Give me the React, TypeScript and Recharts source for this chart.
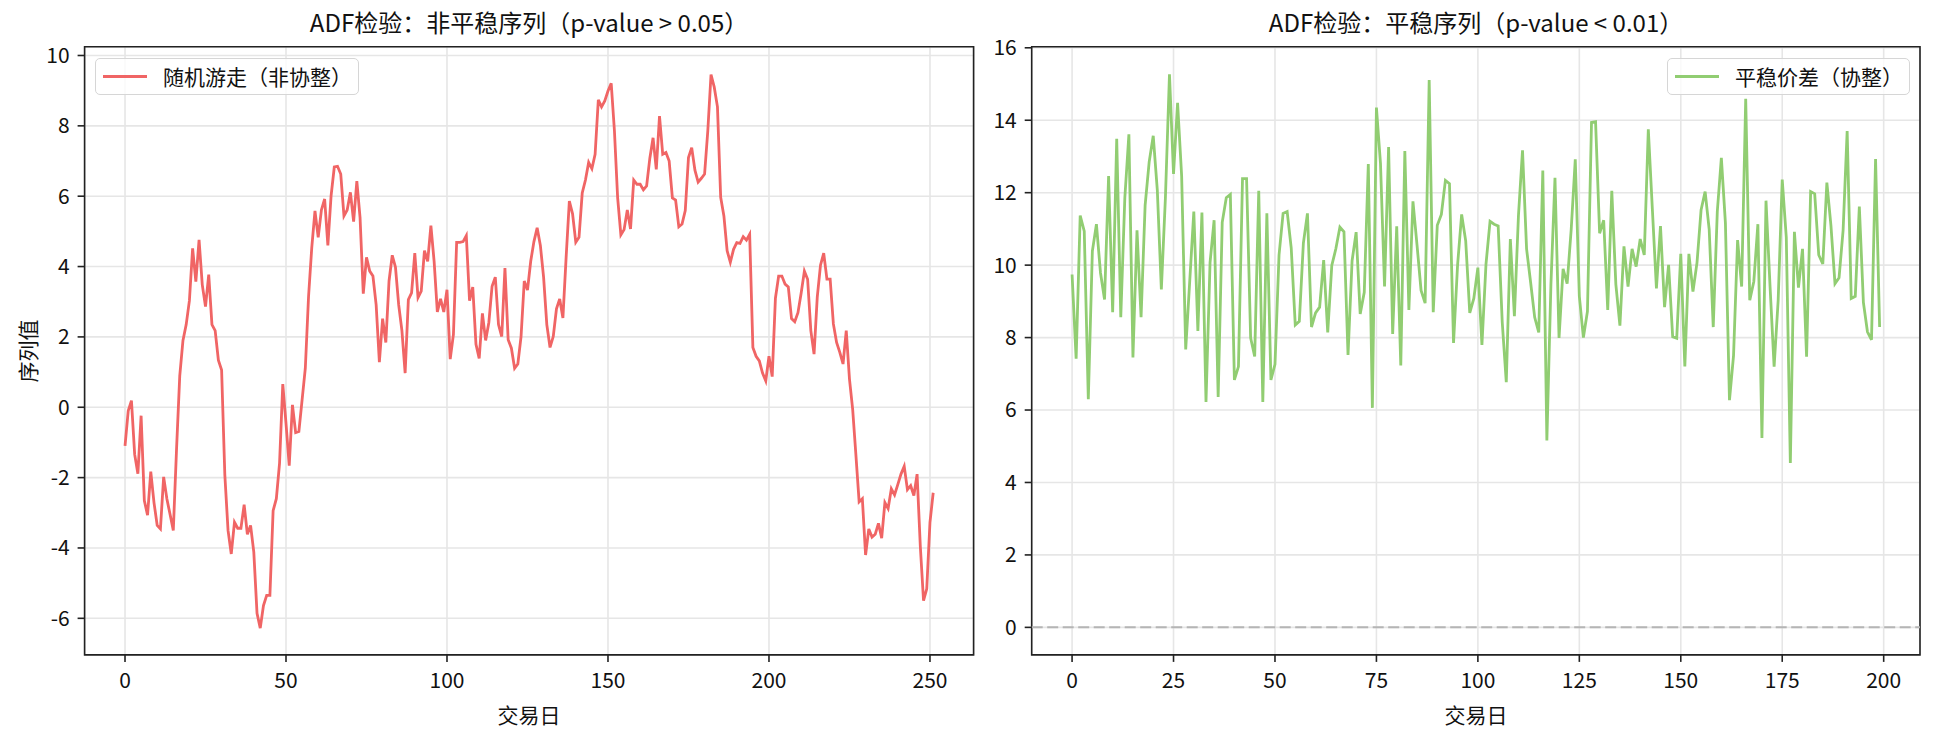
import React from 'react';
import { LineChart, Line, XAxis, YAxis, CartesianGrid, ReferenceArea, ReferenceLine } from 'recharts';

const FONT = "'Noto Sans CJK SC', 'Noto Sans', sans-serif";

// ---- Data ----
const randomWalk = [
  -1.10, -0.10, 0.19, -1.34, -1.89, -0.24, -2.65, -3.07, -1.83, -2.71,
  -3.36, -3.46, -1.98, -2.60, -3.05, -3.50, -1.20, 0.89, 1.90, 2.35,
  3.03, 4.52, 3.57, 4.76, 3.48, 2.86, 3.77, 2.35, 2.18, 1.34,
  1.06, -1.92, -3.50, -4.17, -3.27, -3.44, -3.44, -2.77, -3.61, -3.36,
  -4.12, -5.86, -6.28, -5.64, -5.35, -5.35, -2.94, -2.60, -1.59, 0.66,
  -0.46, -1.66, 0.07, -0.72, -0.69, 0.21, 1.11, 3.14, 4.54, 5.58,
  4.83, 5.61, 5.92, 4.60, 6.01, 6.83, 6.85, 6.63, 5.44, 5.61,
  6.11, 5.28, 6.43, 5.39, 3.23, 4.26, 3.87, 3.73, 2.91, 1.28,
  2.52, 1.84, 3.59, 4.32, 3.98, 2.91, 2.18, 0.97, 3.06, 3.25,
  4.38, 3.12, 3.30, 4.45, 4.15, 5.16, 4.15, 2.71, 3.08, 2.71,
  3.34, 1.37, 2.07, 4.69, 4.69, 4.71, 4.88, 3.03, 3.42, 1.79,
  1.39, 2.67, 1.90, 2.41, 3.44, 3.70, 2.35, 2.01, 3.96, 1.92,
  1.68, 1.11, 1.23, 2.01, 3.59, 3.33, 4.15, 4.71, 5.10, 4.60,
  3.70, 2.35, 1.70, 2.01, 2.80, 3.08, 2.54, 4.26, 5.86, 5.50,
  4.69, 4.83, 6.09, 6.46, 6.96, 6.78, 7.19, 8.74, 8.54, 8.71,
  8.99, 9.21, 7.86, 5.95, 4.90, 5.05, 5.61, 5.07, 6.46, 6.34,
  6.34, 6.18, 6.29, 7.08, 7.66, 6.76, 8.28, 7.19, 7.24, 7.00,
  5.95, 5.89, 5.13, 5.21, 5.59, 7.10, 7.38, 6.74, 6.40, 6.51,
  6.63, 7.86, 9.46, 9.10, 8.54, 5.97, 5.44, 4.45, 4.12, 4.49,
  4.68, 4.66, 4.85, 4.75, 4.92, 1.70, 1.45, 1.32, 0.97, 0.75,
  1.45, 0.87, 3.10, 3.73, 3.73, 3.50, 3.42, 2.52, 2.43, 2.69,
  3.25, 3.87, 3.64, 2.18, 1.51, 3.14, 4.04, 4.38, 3.64, 3.64,
  2.37, 1.84, 1.56, 1.23, 2.18, 0.80, -0.07, -1.36, -2.69, -2.60,
  -4.20, -3.46, -3.69, -3.61, -3.30, -3.72, -2.71, -2.88, -2.32, -2.49,
  -2.20, -1.90, -1.68, -2.34, -2.23, -2.51, -1.90, -3.95, -5.50, -5.16,
  -3.27, -2.43,
];

const spread = [
  9.74, 7.42, 11.37, 10.94, 6.30, 10.39, 11.13, 9.79, 9.05, 12.46,
  8.70, 13.49, 8.56, 11.86, 13.61, 7.45, 10.96, 8.56, 11.65, 12.85,
  13.57, 12.08, 9.33, 11.86, 15.27, 12.52, 14.48, 12.46, 7.67, 9.57,
  11.48, 8.18, 11.45, 6.22, 10.07, 11.24, 6.36, 11.18, 11.86, 11.95,
  6.83, 7.20, 12.39, 12.39, 7.99, 7.48, 12.05, 6.22, 11.43, 6.83,
  7.26, 10.28, 11.43, 11.48, 10.48, 8.35, 8.45, 10.61, 11.43, 8.29,
  8.68, 8.84, 10.14, 8.14, 9.99, 10.45, 11.05, 10.92, 7.52, 10.12,
  10.91, 8.65, 9.25, 12.79, 6.06, 14.35, 12.81, 9.41, 13.26, 8.10,
  11.07, 7.23, 13.15, 8.76, 11.76, 10.56, 9.30, 8.95, 15.11, 8.70,
  11.10, 11.40, 12.34, 12.25, 7.85, 10.01, 11.40, 10.67, 8.68, 9.08,
  9.93, 7.80, 10.03, 11.21, 11.13, 11.08, 8.43, 6.77, 10.72, 8.59,
  11.37, 13.17, 10.45, 9.52, 8.56, 8.14, 12.61, 5.16, 9.47, 12.41,
  7.99, 9.90, 9.49, 10.99, 12.92, 9.14, 8.00, 8.72, 13.94, 13.96,
  10.88, 11.24, 8.76, 12.05, 9.47, 8.33, 10.52, 9.41, 10.45, 9.96,
  10.72, 10.28, 13.75, 11.54, 9.36, 11.08, 8.84, 10.01, 8.02, 7.98,
  10.31, 7.20, 10.31, 9.27, 10.07, 11.52, 12.03, 10.99, 8.29, 11.48,
  12.96, 11.16, 6.27, 7.50, 10.69, 9.41, 14.59, 9.03, 9.55, 11.13,
  5.23, 11.78, 9.41, 7.20, 9.03, 12.36, 10.77, 4.54, 10.92, 9.38,
  10.45, 7.47, 12.03, 11.97, 10.28, 10.03, 12.28, 11.10, 9.49, 9.65,
  10.96, 13.70, 9.08, 9.14, 11.62, 8.97, 8.16, 7.94, 12.93, 8.29,
];

const leftXTicks = [0, 50, 100, 150, 200, 250];
const leftYTicks = [-6, -4, -2, 0, 2, 4, 6, 8, 10];
const rightXTicks = [0, 25, 50, 75, 100, 125, 150, 175, 200];
const rightYTicks = [0, 2, 4, 6, 8, 10, 12, 14, 16];

const leftTitle = 'ADF检验：非平稳序列（p-value > 0.05）';
const rightTitle = 'ADF检验：平稳序列（p-value < 0.01）';
const leftLegend = '随机游走（非协整）';
const rightLegend = '平稳价差（协整）';
const xLabel = '交易日';
const yLabel = '序列值';

const RED = '#f06565';
const GREEN = '#91cd72';

const leftData = randomWalk.map((v, i) => ({ day: i, value: v }));
const rightData = spread.map((v, i) => ({ day: i, value: v }));

const LEFT_XDOM: [number, number] = [-12.55, 263.55];
const LEFT_YDOM: [number, number] = [-7.04, 10.25];
const RIGHT_XDOM: [number, number] = [-9.95, 208.95];
const RIGHT_YDOM: [number, number] = [-0.76, 16.03];

const tickStyle = { fontSize: 21, fill: '#111', fontFamily: FONT };
const tickLineStyle = { stroke: '#222', strokeWidth: 1.6 };

function Text({ x, y, size, children, anchor = 'center', rotate = false }: any) {
  const style: React.CSSProperties = {
    position: 'absolute',
    left: x,
    top: y,
    fontSize: size,
    fontFamily: FONT,
    color: '#111',
    whiteSpace: 'nowrap',
    lineHeight: 1,
    transform: rotate
      ? 'translate(-50%, -50%) rotate(-90deg)'
      : anchor === 'center'
      ? 'translate(-50%, -50%)'
      : 'translate(0, -50%)',
  };
  return <div style={style}>{children}</div>;
}

function LegendBox({ left, top, width, color, label }: any) {
  return (
    <div
      style={{
        position: 'absolute',
        left,
        top,
        width,
        height: 37,
        boxSizing: 'border-box',
        border: '1.6px solid #d6d6d6',
        borderRadius: 5,
        background: 'rgba(255,255,255,0.8)',
      }}
    >
      <div style={{ position: 'absolute', left: 7, top: 16.5, width: 44, height: 2.8, background: color }} />
      <div
        style={{
          position: 'absolute',
          left: 67,
          top: 0,
          height: 34,
          lineHeight: '34px',
          fontSize: 21,
          fontFamily: FONT,
          color: '#111',
          whiteSpace: 'nowrap',
        }}
      >
        {label}
      </div>
    </div>
  );
}

export default function App() {
  return (
    <div style={{ position: 'absolute', left: 0, top: 0, width: 1935, height: 735, background: '#fff', overflow: 'hidden' }}>
      <div style={{ position: 'absolute', left: 0, top: 0 }}>
        <LineChart width={1000} height={735} data={leftData} margin={{ top: 46.7, right: 26.4, bottom: 30.1, left: 0 }}>
          <CartesianGrid stroke="#e6e6e6" strokeWidth={1.6} />
          <XAxis
            type="number"
            dataKey="day"
            domain={LEFT_XDOM}
            ticks={leftXTicks}
            allowDataOverflow
            height={50}
            axisLine={false}
            tickSize={7}
            tickMargin={11}
            tick={tickStyle}
            tickLine={tickLineStyle}
            interval={0}
          />
          <YAxis
            type="number"
            domain={LEFT_YDOM}
            ticks={leftYTicks}
            allowDataOverflow
            width={84.6}
            axisLine={false}
            tickSize={7}
            tickMargin={8}
            tick={tickStyle}
            tickLine={tickLineStyle}
            interval={0}
          />
          <Line type="linear" dataKey="value" stroke={RED} strokeWidth={2.8} dot={false} isAnimationActive={false} />
          <ReferenceArea
            x1={LEFT_XDOM[0]}
            x2={LEFT_XDOM[1]}
            y1={LEFT_YDOM[0]}
            y2={LEFT_YDOM[1]}
            fill="none"
            fillOpacity={0}
            stroke="#222"
            strokeWidth={1.6}
            ifOverflow="visible"
          />
        </LineChart>
      </div>
      <div style={{ position: 'absolute', left: 940, top: 0 }}>
        <LineChart width={995} height={735} data={rightData} margin={{ top: 46.7, right: 15, bottom: 30.1, left: 31.7 }}>
          <CartesianGrid stroke="#e6e6e6" strokeWidth={1.6} />
          <XAxis
            type="number"
            dataKey="day"
            domain={RIGHT_XDOM}
            ticks={rightXTicks}
            allowDataOverflow
            height={50}
            axisLine={false}
            tickSize={7}
            tickMargin={11}
            tick={tickStyle}
            tickLine={tickLineStyle}
            interval={0}
          />
          <YAxis
            type="number"
            domain={RIGHT_YDOM}
            ticks={rightYTicks}
            allowDataOverflow
            width={60}
            axisLine={false}
            tickSize={7}
            tickMargin={8}
            tick={tickStyle}
            tickLine={tickLineStyle}
            interval={0}
          />
          <ReferenceLine y={0} stroke="#b5b5b5" strokeWidth={2} strokeDasharray="11 4.5" />
          <Line type="linear" dataKey="value" stroke={GREEN} strokeWidth={2.8} dot={false} isAnimationActive={false} />
          <ReferenceArea
            x1={RIGHT_XDOM[0]}
            x2={RIGHT_XDOM[1]}
            y1={RIGHT_YDOM[0]}
            y2={RIGHT_YDOM[1]}
            fill="none"
            fillOpacity={0}
            stroke="#222"
            strokeWidth={1.6}
            ifOverflow="visible"
          />
        </LineChart>
      </div>

      <Text x={529} y={22} size={24}>{leftTitle}</Text>
      <Text x={1476} y={22} size={24}>{rightTitle}</Text>
      <Text x={529} y={714} size={21}>{xLabel}</Text>
      <Text x={1476} y={714} size={21}>{xLabel}</Text>
      <Text x={27} y={351} size={21} rotate>{yLabel}</Text>

      <LegendBox left={95} top={57.5} width={264} color={RED} label={leftLegend} />
      <LegendBox left={1667} top={57.5} width={243} color={GREEN} label={rightLegend} />
    </div>
  );
}
